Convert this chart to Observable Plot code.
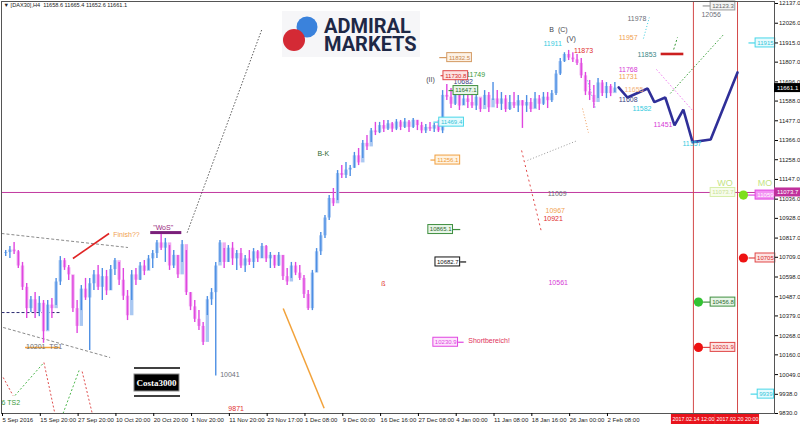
<!DOCTYPE html>
<html><head><meta charset="utf-8">
<script src="https://cdn.jsdelivr.net/npm/d3@7"></script>
<script src="https://cdn.jsdelivr.net/npm/@observablehq/plot@0.6"></script>
<style>
html,body{margin:0;padding:0;background:#fff;}
#wrap{position:relative;width:800px;height:426px;overflow:hidden;}
#wrap > svg{display:block;}
#deco{position:absolute;left:0;top:0;pointer-events:none;}
</style></head><body>
<div id="wrap"></div>
<script>
// DAX30 H4 bars (bar 1..146); every bar opens at the previous close
const barHigh = [10747,10770,10792,10747,10680,10561,10488,10511,10488,10466,10466,10477,10590,10713,10702,10663,10606,10466,10550,10590,
10590,10635,10663,10646,10635,10663,10702,10680,10646,10522,10635,10646,10680,10691,10719,10747,10803,10837,10815,10775,
10747,10719,10803,10747,10511,10466,10409,10342,10488,10533,10680,10803,10758,10775,10792,10747,10758,10719,10747,10758,
10747,10787,10775,10736,10719,10736,10719,10646,10680,10680,10663,10606,10522,10635,10758,10849,10944,11057,11096,11197,
11225,11242,11225,11299,11321,11366,11394,11434,11468,11468,11479,11479,11468,11484,11479,11490,11479,11490,11479,11468,
11456,11468,11462,11479,11647,11681,11659,11636,11619,11636,11619,11647,11636,11602,11647,11636,11692,11647,11636,11619,
11619,11636,11619,11591,11619,11602,11636,11619,11636,11636,11647,11760,11828,11860,11873,11860,11850,11828,11749,11704,
11676,11715,11704,11692,11681,11692];
const barLow = [10714,10702,10725,10646,10522,10364,10398,10364,10375,10225,10297,10364,10438,10550,10635,10578,10398,10280,10409,10466,
10184,10522,10522,10466,10494,10522,10606,10550,10466,10353,10466,10550,10578,10606,10635,10646,10702,10747,10680,10635,
10646,10590,10680,10494,10409,10342,10297,10213,10381,10438,10041,10680,10646,10680,10663,10635,10646,10623,10663,10646,
10680,10702,10680,10646,10646,10657,10578,10550,10590,10606,10578,10477,10409,10409,10623,10719,10815,10916,10995,11028,
11152,11152,11163,11209,11225,11265,11310,11355,11394,11405,11411,11422,11411,11422,11422,11434,11411,11434,11422,11405,
11405,11417,11411,11411,11405,11591,11546,11563,11535,11563,11546,11546,11535,11524,11563,11524,11591,11546,11535,11524,
11535,11546,11524,11434,11524,11524,11546,11535,11563,11546,11580,11619,11732,11805,11816,11805,11788,11715,11619,11591,
11546,11602,11613,11602,11613,11636];
const barClose = [10736,10750,10740,10660,10540,10420,10470,10400,10450,10290,10440,10420,10570,10690,10650,10610,10420,10320,10530,10480,
10560,10610,10540,10600,10520,10640,10690,10580,10490,10380,10610,10580,10660,10630,10700,10730,10790,10760,10790,10660,
10720,10610,10780,10510,10430,10360,10320,10230,10470,10510,10660,10790,10680,10760,10700,10730,10660,10700,10680,10740,
10700,10770,10700,10720,10660,10720,10600,10570,10660,10620,10590,10500,10420,10620,10740,10830,10930,11040,11010,11180,
11170,11200,11210,11280,11240,11350,11330,11420,11410,11450,11430,11460,11430,11470,11440,11470,11440,11480,11450,11420,
11440,11430,11450,11420,11620,11610,11570,11620,11560,11600,11580,11560,11610,11540,11620,11550,11600,11570,11600,11540,
11580,11560,11590,11560,11580,11540,11600,11570,11610,11590,11630,11740,11810,11850,11830,11820,11800,11730,11640,11620,
11580,11690,11630,11670,11630,11661.1];
const firstOpen = 10730;

// time axis: bar positions of the labelled ticks
const tickBars = [0,9,18,27,36,45,54,63,72,81,90,99,108,117,126,135,144];
const tickLabels = ["5 Sep 2016","15 Sep 20:00","27 Sep 20:00","10 Oct 20:00","20 Oct 20:00","1 Nov 20:00","11 Nov 20:00",
  "23 Nov 17:00","1 Dec 08:00","9 Dec 00:00","16 Dec 16:00","27 Dec 08:00","4 Jan 00:00","11 Jan 08:00","18 Jan 16:00",
  "26 Jan 00:00","2 Feb 08:00"];
const priceTicks = [12137,12026,11915,11807,11696,11588,11477,11366,11258,11147,11036,10928,10817,10709,10598,10487,10379,10268,10160,10049,9938,9830];

// projected wave path
const forecastBar = [146.9,149,153.8,155.4,158,160.2,162.3,164.5,168.8,175.2];
const forecastPrice = [11665,11608,11659,11582,11608,11451,11540,11357,11372,11749];

// vertical time markers
const markerBars = [164.7,175.2];
const markerLabels = ["2017.02.14 12:00","2017.02.20 20:00"];

const levelLine = 11073.7;
const lastPrice = 11661.1;

// trend / wave lines: [bar1, price1, bar2, price2]
const triangleLines = [[0,10843,30.1,10764],[0.4,10314,25.85,10145]];
const supportLine = [[0,10398,13.9,10398]];
const upChannel = [[44.2,10848,62.05,11996]];
const orangeLeg = [[67.06,10421,76.8,9860]];
const finishLine = [[17,10702,25.6,10843]];
const wosLine = [[35.4,10848,42.8,10848]];
const ts1Line = [[5.6,10201,13.9,10201]];
const redDotted = [[123.8,11310,128.5,10854]];
const grayDotted = [[125.2,11254,137.1,11366]];
const orangeDotted = [[138.3,11546,139.7,11411]];
const cyanDotted = [[139.5,11704,141.4,11546],[152.8,11940,154.2,12058]];
const greenDashed = [[160,11878,160.9,11946]];
const greenDotted = [[159.2,11631,171.9,11963]];
const pinkDotted = [[155.9,11766,164.5,11535]];
const targetBar = [[156.9,11853,162.3,11853]];
const zigRed = [[0.4,10033,2.74,9931],[10.1,10117,12.7,9830],[19.2,10066,21.6,9830]];
const zigGreen = [[3.2,9931,10.1,10117],[14.65,9830,18.46,10072]];

// boxed price levels: value, bar of box left edge, bar where the stub line starts
const boxes = [
  {t:"11832.5", i:106.1, stub:104.2, tone:"tan"},
  {t:"11730.8", i:105.2, stub:104.5, tone:"red"},
  {t:"11647.1", i:107.6, stub:106.4, tone:"green"},
  {t:"11469.4", i:104.2, stub:102.8, tone:"cyan"},
  {t:"11256.1", i:103.3, stub:102.1, tone:"orange"},
  {t:"10865.1", i:101.6, stub:109.2, tone:"green"},
  {t:"10682.7", i:103.3, stub:110.6, tone:"black"},
  {t:"10230.9", i:102.8, stub:110.0, tone:"magenta"},
  {t:"12123.3", i:168.8, stub:166.9, tone:"gray"},
  {t:"11073.7", i:168.8, stub:168.8, tone:"lime"},
  {t:"10456.8", i:168.8, stub:167.0, tone:"green"},
  {t:"10201.9", i:168.8, stub:167.0, tone:"red"},
  {t:"11915", i:179.5, stub:177.8, tone:"cyan"},
  {t:"11059", i:179.5, stub:177.2, tone:"pink"},
  {t:"10705", i:179.5, stub:177.8, tone:"red"},
  {t:"9939", i:180.0, stub:178.3, tone:"cyan"}
];
const dots = [
  {i:165.9, p:10456.8, tone:"green"},
  {i:165.9, p:10201.9, tone:"red"},
  {i:176.6, p:11059, tone:"lime"},
  {i:176.6, p:10705, tone:"red"}
];

// free text notes
const notes = [
  {t:"11978", i:149.0, p:12053, tone:"gray"},
  {t:"11957", i:146.9, p:11946, tone:"orange"},
  {t:"11853", i:151.4, p:11850, tone:"teal"},
  {t:"12056", i:166.6, p:12075, tone:"gray"},
  {t:"11768", i:146.9, p:11766, tone:"magenta"},
  {t:"11731", i:146.9, p:11726, tone:"orange"},
  {t:"11655", i:148.3, p:11653, tone:"peach"},
  {t:"11608", i:146.9, p:11597, tone:"navy"},
  {t:"11582", i:150.2, p:11546, tone:"cyan"},
  {t:"11451", i:155.2, p:11456, tone:"magenta"},
  {t:"11357", i:162.1, p:11349, tone:"cyan"},
  {t:"B  (C)", i:130.4, p:11991, tone:"dark"},
  {t:"(V)", i:134.5, p:11940, tone:"dark"},
  {t:"11911", i:129.0, p:11912, tone:"cyan"},
  {t:"11873", i:136.3, p:11873, tone:"red"},
  {t:"(II)", i:101.1, p:11709, tone:"dark"},
  {t:"10682", i:107.6, p:11698, tone:"navy"},
  {t:"11749", i:110.6, p:11737, tone:"green"},
  {t:"B-K", i:75.2, p:11293, tone:"darkgreen"},
  {t:"11069", i:130.0, p:11068, tone:"gray"},
  {t:"10967", i:129.5, p:10972, tone:"orange"},
  {t:"10921", i:129.0, p:10927, tone:"red"},
  {t:"10561", i:130.2, p:10567, tone:"magenta"},
  {t:"ß", i:90.4, p:10561, tone:"red"},
  {t:"Shortbereich!", i:111.1, p:10241, tone:"rose"},
  {t:"Finish??", i:26.6, p:10837, tone:"orange"},
  {t:"\"WoS\"", i:36.1, p:10877, tone:"purple"},
  {t:"10201  TS1", i:5.84, p:10207, tone:"gray"},
  {t:"10041", i:52.05, p:10049, tone:"gray"},
  {t:"9871", i:54.0, p:9858, tone:"red"},
  {t:"6 TS2", i:0, p:9892, tone:"green"}
];
const signals = [
  {t:"WO", i:170.4, p:11124},
  {t:"MO", i:180.0, p:11124}
];

const header = "\u25BC [DAX30],H4  11658.6 11665.4 11652.6 11661.1";

// ---- colours ----
const ink = {
  gray:"#6c6f78", orange:"#f0a050", teal:"#3d8787", magenta:"#d63ad6", cyan:"#35cbe0",
  navy:"#3a4282", dark:"#44444c", red:"#e02e2e", green:"#3a9a3a", darkgreen:"#2e6a2e",
  peach:"#f2b27a", purple:"#9a2a80", rose:"#e0305a", lime:"#c4e384"
};
const boxTone = {
  tan:{s:"#d49a62", f:"#fdf2e6", t:"#c7874a"},
  red:{s:"#e04848", f:"#fde3e3", t:"#d42a2a"},
  green:{s:"#3f8f3f", f:"#e8f5e8", t:"#2f6a2f"},
  cyan:{s:"#48d6e8", f:"#e6fbfe", t:"#36c4d8"},
  orange:{s:"#f0a040", f:"#fff3e2", t:"#ee9c38"},
  black:{s:"#111", f:"#fff", t:"#111"},
  magenta:{s:"#e046e0", f:"#fde4fd", t:"#e046e0"},
  gray:{s:"#9a9a9a", f:"#f2f2f2", t:"#666"},
  lime:{s:"#d6eea8", f:"#f7fcec", t:"#c8e294"},
  pink:{s:"#e046e0", f:"#f391f3", t:"#ffffff"}
};
const dotTone = {green:"#33c233", red:"#ee1212", lime:"#7ede1e"};

// ---- geometry ----
const W = 800, H = 426, mL = 1, mR = 26, mT = 1, mB = 13;
const xDom = [0, 184], yDom = [9830, 12148.25];
const kx = (xDom[1] - xDom[0]) / (W - mL - mR);   // bars per pixel
const ky = (yDom[1] - yDom[0]) / (H - mT - mB);   // points per pixel

const bars = barHigh.map((h, k) => {
  const o = k ? barClose[k - 1] : firstOpen;
  return {i: k + 1, hi: h, lo: barLow[k], c: barClose[k], o, up: barClose[k] >= o};
});
const forecast = forecastBar.map((b, k) => ({i: b, p: forecastPrice[k]}));

const boxFont = 6;
const textWidth = (t, fs) => [...t].reduce((w, ch) => w + (/[0-9]/.test(ch) ? 0.556 : ch === "." ? 0.278 : 0.6), 0) * fs;
const boxRows = boxes.map(b => {
  const w = (textWidth(b.t, boxFont) + 3) * kx;
  const p = +b.t;
  const right = b.stub > b.i;
  return {...b, p, w, sx1: b.stub, sx2: right ? b.i + w : b.i};
});

const seg = (data, o) => Plot.link(data, {x1: d => d[0], y1: d => d[1], x2: d => d[2], y2: d => d[3], ...o});

const tagRight = xDom[1] + (mR) * kx;
const tags = [
  {p: lastPrice, t: lastPrice.toFixed(1), f: "#000"},
  {p: levelLine, t: levelLine.toFixed(1), f: "#c0309c"}
];
const dateTags = markerBars.map((b, k) => ({i: b, t: markerLabels[k]}));
const labelByBar = new Map(tickBars.map((b, k) => [b, tickLabels[k]]));

const chart = Plot.plot({
  width: W, height: H,
  marginLeft: mL, marginRight: mR, marginTop: mT, marginBottom: mB,
  x: {domain: xDom, label: null},
  y: {domain: yDom, label: null},
  color: {type: "identity"},
  style: {fontFamily: "'Liberation Sans', Arial, sans-serif", background: "#fff", overflow: "visible", fontSize: "6px"},
  marks: [
    Plot.ruleY([levelLine], {stroke: "#c23aa0", strokeWidth: 1}),
    Plot.ruleX(markerBars, {stroke: "#d44a4a", strokeWidth: 1}),

    seg(triangleLines, {stroke: "#8a8a8a", strokeDasharray: "3,2"}),
    seg(supportLine, {stroke: "#2a2a70", strokeDasharray: "3,2"}),
    seg(upChannel, {stroke: "#333", strokeDasharray: "1.2,2"}),
    seg(orangeLeg, {stroke: "#f2a23a", strokeWidth: 1.5}),
    seg(finishLine, {stroke: "#e02424", strokeWidth: 1.6}),
    seg(wosLine, {stroke: "#7a1f7a", strokeWidth: 3}),
    seg(ts1Line, {stroke: "#f2a23a", strokeWidth: 1.5}),
    seg(redDotted, {stroke: "#e24848", strokeDasharray: "2,3"}),
    seg(grayDotted, {stroke: "#9a9a9a", strokeDasharray: "1,2"}),
    seg(orangeDotted, {stroke: "#f0a060", strokeDasharray: "1,2"}),
    seg(cyanDotted, {stroke: "#3ccfe0", strokeDasharray: "1,2"}),
    seg(greenDashed, {stroke: "#3a9a3a", strokeDasharray: "2,2"}),
    seg(greenDotted, {stroke: "#3aa03a", strokeDasharray: "1.5,2"}),
    seg(pinkDotted, {stroke: "#f07ef0", strokeDasharray: "1.5,2"}),
    seg(targetBar, {stroke: "#cc1f1f", strokeWidth: 2.6}),
    seg(zigRed, {stroke: "#e05050", strokeDasharray: "2,2"}),
    seg(zigGreen, {stroke: "#50b850", strokeDasharray: "2,2"}),

    // candles: light body, darker high-low line on top
    Plot.ruleX(bars, {x: "i", y1: "o", y2: "c", stroke: d => d.up ? "#a9c8f2" : "#f0aaf0", strokeWidth: 3.4}),
    Plot.ruleX(bars, {x: "i", y1: "lo", y2: "hi", stroke: d => d.up ? "#4d8fe4" : "#e046e0", strokeWidth: 1.4}),

    Plot.line(forecast, {x: "i", y: "p", stroke: "#2f2f98", strokeWidth: 2.6, strokeLinejoin: "miter"}),

    Plot.text(notes, {x: "i", y: "p", text: "t", fill: d => ink[d.tone], fontSize: 7, textAnchor: "start"}),
    Plot.text(signals, {x: "i", y: "p", text: "t", fill: ink.lime, fontSize: 9, textAnchor: "start"}),

    Plot.link(boxRows, {x1: "sx1", x2: "sx2", y1: "p", y2: "p", stroke: d => boxTone[d.tone].s, strokeWidth: 1.2}),
    Plot.rect(boxRows, {x1: "i", x2: d => d.i + d.w, y1: d => d.p - 4.5 * ky, y2: d => d.p + 4.5 * ky,
      fill: d => boxTone[d.tone].f, stroke: d => boxTone[d.tone].s, strokeWidth: 1}),
    Plot.text(boxRows, {x: d => d.i + d.w / 2, y: "p", text: "t", fill: d => boxTone[d.tone].t, fontSize: boxFont}),

    Plot.dot(dots, {x: "i", y: "p", r: 4.6, fill: d => dotTone[d.tone]}),

    Plot.frame({stroke: "#555", strokeWidth: 1}),
    Plot.axisY(priceTicks, {anchor: "right", tickSize: 3, tickPadding: 1.5, fontSize: 6, fill: "#222",
      tickFormat: d => d.toFixed(1)}),
    Plot.axisX(tickBars, {anchor: "bottom", tickSize: 3, tickPadding: 1.5, fontSize: 6, fill: "#222",
      textAnchor: "start", dx: 1, tickFormat: d => labelByBar.get(d)}),

    // price tags on the right axis
    Plot.rect(tags, {x1: xDom[1], x2: tagRight, y1: d => d.p - 4.5 * ky, y2: d => d.p + 4.5 * ky, fill: "f"}),
    Plot.text(tags, {x: xDom[1], y: "p", text: "t", fill: "#fff", fontSize: 6, textAnchor: "start", dx: 2.5}),

    // time tags under the vertical markers
    Plot.rect(dateTags, {x1: d => d.i - 22 * kx, x2: d => d.i + 22 * kx, y1: yDom[0] - 1 * ky, y2: yDom[0] - 11 * ky, fill: "#e8141c"}),
    Plot.text(dateTags, {x: "i", y: yDom[0] - 6 * ky, text: "t", fill: "#fff", fontSize: 5.4}),

    Plot.text([header], {frameAnchor: "top-left", dx: 2, dy: 2, fontSize: 5.6, fill: "#222", lineAnchor: "top"})
  ]
});

const wrap = document.getElementById("wrap");
wrap.appendChild(chart);

// brand logo and signature badge
const deco = d3.select(wrap).append("svg").attr("id", "deco").attr("width", W).attr("height", H);
deco.append("rect").attr("x", 282).attr("y", 11).attr("width", 138).attr("height", 46).attr("fill", "#f6f6f8");
deco.append("circle").attr("cx", 307).attr("cy", 27).attr("r", 10.5).attr("fill", "#3a82dc");
deco.append("circle").attr("cx", 294).attr("cy", 40).attr("r", 11).attr("fill", "#d42a35");
deco.append("text").attr("x", 324).attr("y", 33).text("ADMIRAL")
  .attr("font-family", "Roboto, 'Liberation Sans', sans-serif").attr("font-weight", 700).attr("font-size", 20).attr("fill", "#1e2846");
deco.append("text").attr("x", 324).attr("y", 51).text("MARKETS")
  .attr("font-family", "Roboto, 'Liberation Sans', sans-serif").attr("font-weight", 700).attr("font-size", 20).attr("fill", "#1e2846");

deco.append("line").attr("x1", 134).attr("x2", 180).attr("y1", 368).attr("y2", 368).attr("stroke", "#000").attr("stroke-width", 1.5);
deco.append("line").attr("x1", 134).attr("x2", 180).attr("y1", 396).attr("y2", 396).attr("stroke", "#000").attr("stroke-width", 1.5);
deco.append("rect").attr("x", 134).attr("y", 374).attr("width", 45).attr("height", 17).attr("fill", "#000").attr("stroke", "#888").attr("stroke-width", 1);
deco.append("text").attr("x", 156.5).attr("y", 386).attr("text-anchor", "middle").text("Costa3000")
  .attr("font-family", "'Liberation Serif', serif").attr("font-weight", 700).attr("font-size", 9).attr("fill", "#fff");
</script>
</body></html>
